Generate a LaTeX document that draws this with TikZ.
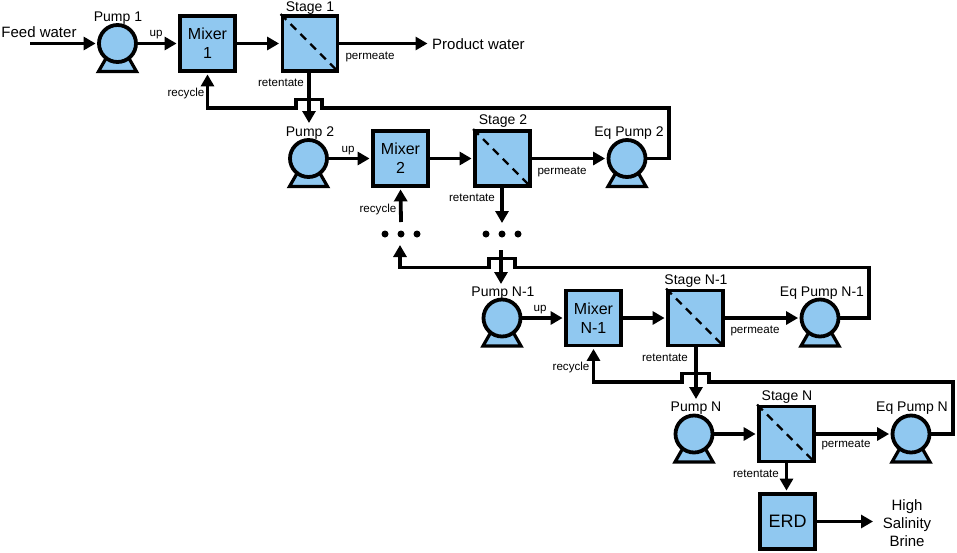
\documentclass[tikz,border=0pt]{standalone}
\usepackage{fontspec}
\setmainfont{Liberation Sans}
\usetikzlibrary{arrows.meta,calc}
\definecolor{unitblue}{HTML}{90C8F0}
\tikzset{
  x=1pt,y=-1pt,
  unitbox/.style={draw=black,fill=unitblue,line width=3.8pt,minimum size=55pt,inner sep=0pt,align=center,font=\fontsize{16}{19}\selectfont},
  pumphead/.style={circle,draw=black,fill=unitblue,line width=3.8pt,minimum size=37pt,inner sep=0pt},
  pumpbase/.style={draw=black,fill=unitblue,line width=3.2pt,line join=miter},
  flow/.style={draw=black,line width=3.8pt,-{Triangle[length=12pt,width=13pt]},shorten >=1.5pt},
  memb/.style={draw=black,line width=2.2pt,dash pattern=on 8pt off 6pt},
  unitlabel/.style={font=\fontsize{14}{16}\selectfont,inner sep=0pt,anchor=base},
  biglabel/.style={font=\fontsize{15}{18}\selectfont,inner sep=0pt,align=center},
  smalllabel/.style={font=\fontsize{11.6}{13}\selectfont,inner sep=0pt,anchor=base},
  elldot/.style={circle,fill=black,minimum size=7pt,inner sep=0pt}
}
\newcommand{\pumpunit}[3]{%
  \draw[pumpbase] ($(#2,#3)+(-19,28)$) -- ($(#2,#3)+(19,28)$) -- ($(#2,#3)+(11,14)$) -- ($(#2,#3)+(-11,14)$) -- cycle;
  \node[pumphead] (#1) at (#2,#3) {};
}
\newcommand{\stageunit}[3]{%
  \node[unitbox] (#1) at (#2,#3) {};
  \draw[memb] (#1.north west) -- (#1.south east);
}
\begin{document}
\begin{tikzpicture}
\useasboundingbox (0,0) rectangle (957,552);
% pumps
\pumpunit{p1}{117.5}{43.5}
\pumpunit{p2}{308.5}{158.5}
\pumpunit{ep2}{627}{158.5}
\pumpunit{pn1}{502}{318}
\pumpunit{epn1}{820}{318}
\pumpunit{pn}{694}{434}
\pumpunit{epn}{911}{434}
% mixers and stages
\node[unitbox] (m1) at (207.5,43.5) {Mixer\\1};
\stageunit{s1}{310}{43.5}
\node[unitbox] (m2) at (400.5,158.5) {Mixer\\2};
\stageunit{s2}{502.5}{158.5}
\node[unitbox] (mn1) at (593.5,318) {Mixer\\N-1};
\stageunit{sn1}{695.5}{318}
\stageunit{sn}{786.5}{434}
\node[unitbox,font=\fontsize{18}{20}\selectfont] (erd) at (787.5,521.5) {ERD};
% dots
\node[elldot] (da1) at (385,234) {};
\node[elldot] (da2) at (401,234) {};
\node[elldot] (da3) at (417,234) {};
\node[elldot] (db1) at (486,234) {};
\node[elldot] (db2) at (502,234) {};
\node[elldot] (db3) at (518,234) {};
% free ends
\coordinate (feed) at (30,43.5);
\coordinate (prod) at (429,43.5);
\coordinate (brine) at (874.5,521.5);
\coordinate (tip1) at (309,123);
\coordinate (tipb) at (502,223);
\coordinate (taila) at (401,222);
\coordinate (tipa2) at (400,245);
\coordinate (top2) at (501,250);
\coordinate (tip2) at (501,284);
\coordinate (tip3) at (696,399);
% loop corners
\coordinate (j1l) at (296,108);
\coordinate (j1lt) at (296,99.5);
\coordinate (j1rt) at (322,99.5);
\coordinate (j1r) at (322,108);
\coordinate (c1) at (669,108);
\coordinate (j2l) at (489,267.5);
\coordinate (j2lt) at (489,258.5);
\coordinate (j2rt) at (515,258.5);
\coordinate (j2r) at (515,267.5);
\coordinate (c2) at (869,267.5);
\coordinate (j3l) at (682,382);
\coordinate (j3lt) at (682,373.5);
\coordinate (j3rt) at (709,373.5);
\coordinate (j3r) at (709,382);
\coordinate (c3) at (953,382);
% forward flows
\draw[flow] (feed) -- (p1.west);
\draw[flow] (p1.east) -- (m1.west);
\draw[flow] (m1.east) -- (s1.west);
\draw[flow] (s1.east) -- (prod);
\draw[flow] (p2.east) -- (m2.west);
\draw[flow] (m2.east) -- (s2.west);
\draw[flow] (s2.east) -- (ep2.west);
\draw[flow] (pn1.east) -- (mn1.west);
\draw[flow] (mn1.east) -- (sn1.west);
\draw[flow] (sn1.east) -- (epn1.west);
\draw[flow] (pn.east) -- (sn.west);
\draw[flow] (sn.east) -- (epn.west);
\draw[flow] (erd.east) -- (brine);
% retentates
\draw[flow,shorten >=0pt] (s1.south -| tip1) -- (tip1);
\draw[flow,shorten >=0pt] (s2.south -| tipb) -- (tipb);
\draw[flow,shorten >=0pt] (top2) -- (tip2);
\draw[flow,shorten >=0pt] (sn1.south -| tip3) -- (tip3);
\draw[flow] (sn.south) -- (sn.south |- erd.north);
% recycle loops
\draw[flow] (ep2.east) -| (c1) -- (j1r) -- (j1rt) -- (j1lt) -- (j1l) -| (m1.south);
\draw[flow] (taila) -- (m2.south);
\draw[flow,shorten >=0pt] (epn1.east) -| (c2) -- (j2r) -- (j2rt) -- (j2lt) -- (j2l) -| (tipa2);
\draw[flow] (epn.east) -| (c3) -- (j3r) -- (j3rt) -- (j3lt) -- (j3l) -| (mn1.south);
% labels
\node[biglabel,anchor=base] (tfeed) at (39,37) {Feed water};
\node[biglabel,anchor=base west] (tprod) at (432,49) {Product water};
\node[biglabel] (tbrine) at (907,523) {High\\Salinity\\Brine};
\node[unitlabel] (l1) at (118,21) {Pump 1};
\node[unitlabel] (l2) at (310,11) {Stage 1};
\node[unitlabel] (l3) at (310,136) {Pump 2};
\node[unitlabel] (l4) at (503,124) {Stage 2};
\node[unitlabel] (l5) at (629,136) {Eq Pump 2};
\node[unitlabel] (l6) at (503,296) {Pump N-1};
\node[unitlabel] (l7) at (696,284) {Stage N-1};
\node[unitlabel] (l8) at (822,296) {Eq Pump N-1};
\node[unitlabel] (l9) at (696,411) {Pump N};
\node[unitlabel] (l10) at (787,400) {Stage N};
\node[unitlabel] (l11) at (912,411) {Eq Pump N};
\node[smalllabel] (u1) at (156,36) {up};
\node[smalllabel] (u2) at (348,152) {up};
\node[smalllabel] (u3) at (540,311) {up};
\node[smalllabel] (r1) at (281,86) {retentate};
\node[smalllabel] (r2) at (472,201) {retentate};
\node[smalllabel] (r3) at (665,361) {retentate};
\node[smalllabel] (r4) at (756,477) {retentate};
\node[smalllabel] (c1t) at (186,96) {recycle};
\node[smalllabel] (c2t) at (378,212) {recycle};
\node[smalllabel] (c3t) at (571,370) {recycle};
\node[smalllabel] (e1) at (370,59) {permeate};
\node[smalllabel] (e2) at (562,174) {permeate};
\node[smalllabel] (e3) at (755,333) {permeate};
\node[smalllabel] (e4) at (846,447) {permeate};
\end{tikzpicture}
\end{document}
